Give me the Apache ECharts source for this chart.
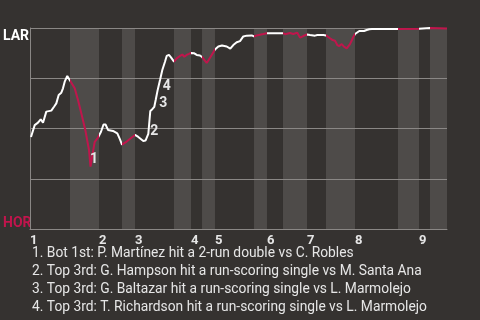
<!DOCTYPE html>
<html><head><meta charset="utf-8">
<script src="https://cdn.jsdelivr.net/npm/echarts@6/dist/echarts.min.js"></script>
<style>html,body{margin:0;padding:0;background:#353230}#c{width:480px;height:320px}</style>
</head><body><div id="c"></div>
<script>
// game progress (% of game) and LAR win probability (%)
const progress = [0.24,1.13,1.92,2.57,3.12,3.91,5.11,5.76,6.31,6.88,7.51,7.91,8.32,8.94,9.59,10.72,11.51,12.30,13.26,14.15,
  14.51,14.75,15.11,15.52,16.31,16.55,17.03,17.63,18.11,18.71,19.90,20.94,21.58,22.06,23.19,24.39,25.18,25.97,27.17,27.70,
  28.37,28.85,29.33,29.81,30.14,30.62,31.18,31.73,32.37,32.78,33.33,33.81,34.53,35.18,35.97,36.52,37.00,37.58,38.13,38.61,
  39.40,39.98,40.77,41.25,41.97,42.37,42.76,43.57,44.36,45.16,46.04,47.17,48.03,48.75,49.57,50.36,51.15,51.97,53.17,53.72,
  54.36,55.95,56.83,57.79,60.67,61.15,62.35,63.14,64.10,64.75,65.54,66.43,67.15,68.35,68.90,70.34,70.98,71.94,72.59,73.14,
  73.69,74.17,74.75,75.30,75.95,76.74,77.53,77.94,78.30,78.97,80.10,80.74,81.37,82.01,88.25,93.29,93.53,95.92,100];
const winProb = [45.8,51.7,52.9,54.6,52.9,58.4,58.9,60.8,62.5,66.7,67.8,70.0,73.3,76.1,73.9,70.0,64.2,57.6,49.3,39.3,
  31.0,31.8,38.5,43.4,45.5,46.3,48.4,52.0,52.0,49.3,48.8,47.6,44.6,42.0,43.5,45.5,46.8,45.8,43.8,44.0,
  47.3,58.7,59.6,60.8,64.2,69.2,74.1,79.1,83.2,86.1,86.6,85.4,83.3,84.9,86.1,86.8,85.7,86.6,87.1,87.6,
  87.4,86.6,86.3,85.6,83.7,82.6,83.8,86.6,89.3,90.8,91.3,90.8,89.7,91.5,92.9,93.5,95.8,96.2,96.3,95.8,
  96.3,97.0,97.4,97.4,97.4,96.9,97.5,97.0,97.7,95.2,96.0,96.8,96.5,96.2,96.5,96.5,96.3,94.9,94.0,93.7,
  91.5,91.0,92.0,90.7,89.9,92.0,95.5,97.0,97.8,98.5,98.5,99.0,99.4,99.5,99.5,99.6,100,100,99.8];
// start of each half inning (top 1st, bot 1st, top 2nd, ...)
const halfStarts = [0,9.59,16.55,22.06,25.18,34.53,38.61,41.25,44.36,53.72,56.83,60.67,66.43,70.98,77.94,88.25,93.29,95.92];
const gameEnd = 100;
const inningLabels = ['1','2','3','4','5','6','7','8','9'];
const topTeam = 'LAR', bottomTeam = 'HOR';
const notes = [
  'Bot 1st: P. Martínez hit a 2-run double vs C. Robles',
  'Top 3rd: G. Hampson hit a run-scoring single vs M. Santa Ana',
  'Top 3rd: G. Baltazar hit a run-scoring single vs L. Marmolejo',
  'Top 3rd: T. Richardson hit a run-scoring single vs L. Marmolejo'
];
const notePoint = [20, 40, 44, 45];

const RED = '#c0154c', WHITE = '#ffffff', BAND = '#4e4b49', GRID = '#8a8785', TXT = '#e6e6e6';
const data = progress.map((x, i) => [x, winProb[i]]);
const ends = halfStarts.slice(1).concat([gameEnd]);
const pieces = halfStarts.map((s, i) => i === halfStarts.length - 1
  ? {gte: s, lte: ends[i], color: i % 2 ? RED : WHITE}
  : {gte: s, lt: ends[i], color: i % 2 ? RED : WHITE});
const bands = halfStarts.map((s, i) => [s, ends[i]]).filter((b, i) => i % 2 === 1)
  .map(b => [{xAxis: b[0]}, {xAxis: b[1]}]);
const inningStarts = halfStarts.filter((s, i) => i % 2 === 0);
const labelOffsets = [[3.5, -7.5], [6, -2.3], [7.6, 3.3], [9, -3.3]];

const chart = echarts.init(document.getElementById('c'));
chart.setOption({
  backgroundColor: '#353230',
  animation: false,
  grid: {left: 30, top: 28, width: 417, height: 201},
  xAxis: {
    type: 'value', min: 0, max: gameEnd, z: 2,
    axisLine: {show: true, lineStyle: {color: GRID, width: 1}},
    axisTick: {show: false}, splitLine: {show: false},
    axisLabel: {
      customValues: inningStarts, align: 'left', margin: 5,
      color: TXT, fontFamily: 'Roboto', fontWeight: 'bold', fontSize: 13,
      formatter: v => inningLabels[inningStarts.indexOf(v)] || ''
    }
  },
  yAxis: {
    type: 'value', min: 0, max: 100, interval: 25, z: 2,
    axisLine: {show: true, lineStyle: {color: GRID, width: 1}},
    axisTick: {show: false}, axisLabel: {show: false},
    splitLine: {lineStyle: {color: GRID, width: 1}}
  },
  visualMap: {show: false, type: 'piecewise', dimension: 0, seriesIndex: 0, pieces: pieces},
  series: [{
    type: 'line', data: data, showSymbol: false, symbol: 'none',
    lineStyle: {width: 2}, z: 4,
    markPoint: {
      symbol: 'circle', symbolSize: 0, silent: true,
      data: notePoint.map((idx, i) => ({
        coord: data[idx], value: String(i + 1),
        label: {show: true, position: 'inside', offset: labelOffsets[i], formatter: String(i + 1),
          color: TXT, fontFamily: 'Roboto', fontWeight: 'bold', fontSize: 14}
      }))
    }
  }, {
    type: 'line', data: [], z: 1,
    markArea: {silent: true, itemStyle: {color: BAND}, data: bands}
  }],
  graphic: [
    {type: 'text', left: 3, top: 29, style: {text: topTeam, fill: '#ffffff', font: 'bold 14px Roboto'}},
    {type: 'text', left: 3, top: 216, style: {text: bottomTeam, fill: RED, font: 'bold 14px Roboto'}}
  ].concat(notes.map((n, i) => ({
    type: 'text', x: 32, y: 254 + i * 17.9,
    style: {text: (i + 1) + '. ' + n, fill: TXT, font: '13.8px Roboto', verticalAlign: 'middle'}
  })))
});
</script></body></html>
